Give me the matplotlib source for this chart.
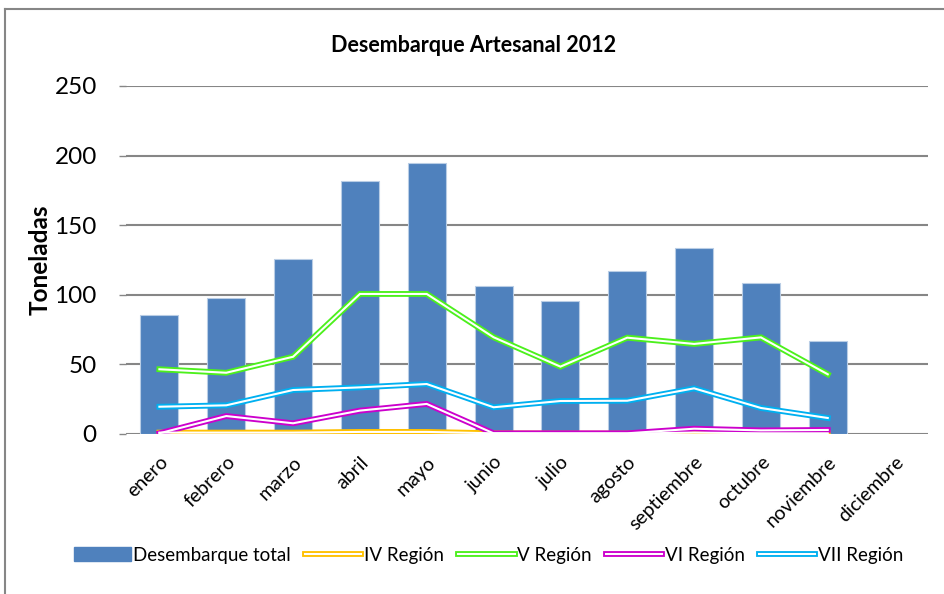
import matplotlib
matplotlib.use("Agg")
import matplotlib.pyplot as plt
from matplotlib.lines import Line2D
from matplotlib.patches import Patch
import numpy as np

plt.rcParams['font.family'] = ['Lato', 'DejaVu Sans']

months = ["enero", "febrero", "marzo", "abril", "mayo", "junio", "julio",
          "agosto", "septiembre", "octubre", "noviembre", "diciembre"]
total = [85.5, 97.7, 125.5, 181.8, 194.7, 106.3, 95.5, 117.0, 133.3, 108.5, 66.8, np.nan]
iv_region = [1.0, 1.0, 1.0, 1.5, 1.5, 0.5, 0.3, 0.3, 1.0, 0.5, 0.5, np.nan]
v_region = [46.5, 44.0, 55.5, 100.6, 100.6, 69.5, 48.4, 69.2, 64.7, 69.4, 42.9, np.nan]
vi_region = [0.5, 12.9, 7.7, 16.8, 21.6, 0.5, 0.5, 0.5, 3.8, 2.6, 2.9, np.nan]
vii_region = [19.6, 20.6, 31.6, 33.5, 35.9, 19.2, 23.7, 23.9, 32.8, 18.7, 11.5, np.nan]

series = [("IV Región", iv_region, "#FFC000"),
          ("V Región", v_region, "#4CF01C"),
          ("VI Región", vi_region, "#CC00CC"),
          ("VII Región", vii_region, "#00B0F0")]

fig = plt.figure(figsize=(9.44, 5.94), dpi=100)
ax = fig.add_axes([126/944, 1-434/594, (928-126)/944, (434-86)/594])

x = np.arange(len(months))
ax.bar(x, total, width=0.57, color="#4F81BD", edgecolor="#B9CDE5", linewidth=0.8, zorder=2)

for name, vals, col in series:
    ax.plot(x, vals, color=col, lw=4.2, solid_joinstyle='miter', zorder=3)
    ax.plot(x, vals, color="white", lw=1.5, solid_joinstyle='miter', zorder=3.1)

ax.set_xlim(-0.5, len(months) - 0.5)
ax.set_ylim(0, 250)
ax.set_yticks([0, 50, 100, 150, 200, 250])
ax.yaxis.grid(True, color="#868686", lw=1.5, zorder=0)
ax.set_axisbelow(True)
for s in ax.spines.values():
    s.set_visible(False)
ax.tick_params(axis='y', length=5, color="#868686", width=1, labelsize=17.5, pad=16)
ax.tick_params(axis='x', length=0, labelsize=14, pad=14)
ax.set_xticks(x)
ax.set_xticklabels(months, rotation=45, ha='right', rotation_mode='anchor')

ax.set_ylabel("Toneladas", fontsize=17.5, fontweight='bold', labelpad=2)
fig.text(474/944, 1-46/594, "Desembarque Artesanal 2012", ha='center', va='center',
         fontsize=15.5, fontweight='bold')

handles = [Patch(facecolor="#4F81BD", edgecolor="#4F81BD")]
labels = ["Desembarque total"]
for name, vals, col in series:
    handles.append((Line2D([], [], color=col, lw=4.2), Line2D([], [], color="white", lw=1.5)))
    labels.append(name)
fig.legend(handles, labels, loc='center', bbox_to_anchor=(489/944, 1-555/594), ncol=5,
           frameon=False, fontsize=13.5, handlelength=3.0, handletextpad=0.15,
           columnspacing=0.75)

# chart border
fig.add_artist(Line2D([5/944, 5/944], [0, 1-9/594], color="#868686", lw=1.5))
fig.add_artist(Line2D([5/944, 1], [1-9/594, 1-9/594], color="#868686", lw=1.5))

fig.savefig("out.png", dpi=100)
